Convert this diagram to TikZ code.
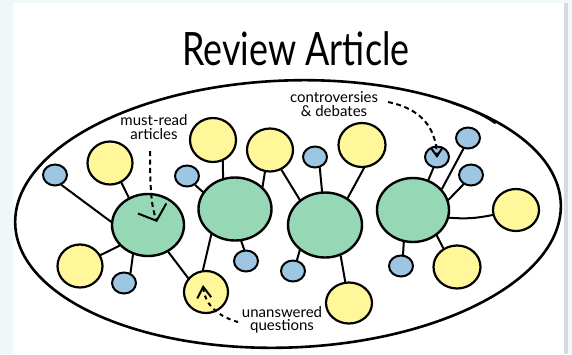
\documentclass[tikz,border=0pt]{standalone}
\usepackage{fontspec}
\newfontfamily\hand{Lato}
\usetikzlibrary{shapes.geometric,arrows.meta}
\definecolor{bgc}{HTML}{EFF7F9}
\definecolor{shadowc}{HTML}{D3DBDE}
\definecolor{greenc}{HTML}{96D8B6}
\definecolor{yelc}{HTML}{FFF799}
\definecolor{bluc}{HTML}{9DC6E2}
\begin{document}
\begin{tikzpicture}[x=1pt,y=-1pt,
  hub/.style={ellipse, draw=black, line width=2.4pt, fill=greenc, inner sep=0pt},
  yel/.style={ellipse, draw=black, line width=2.2pt, fill=yelc, inner sep=0pt, minimum width=45pt, minimum height=43pt},
  blu/.style={ellipse, draw=black, line width=2pt, fill=bluc, inner sep=0pt, minimum width=24pt, minimum height=21pt},
  link/.style={line width=2pt, line cap=round},
  note/.style={font=\hand\fontsize{15}{13.5}\selectfont, align=center, inner sep=0pt},
  dashlink/.style={line width=2pt, dash pattern=on 5pt off 3.5pt}
]
\useasboundingbox (0,0) rectangle (572,354);
\fill[bgc] (0,0) rectangle (572,354);
\fill[shadowc] (563,3) rectangle (568,354);
\fill[white] (13,3) rectangle (564,354);

% title
\node[font=\hand\fontsize{46}{46}\selectfont, anchor=base, inner sep=0pt] (title) at (296,65) {\scalebox{0.78}[1]{Review Article}};

% big ellipse
\draw[line width=2.6pt, rotate around={2.2:(288,214)}] (288,214) ellipse [x radius=273, y radius=133.5];
\draw[line width=2pt, line cap=round] (452,103) .. controls (468,108) and (482,114) .. (495,123);

% hubs
\node[hub, minimum width=72pt, minimum height=62pt] (g1) at (148,225) {};
\node[hub, minimum width=73pt, minimum height=63pt] (g2) at (235,209) {};
\node[hub, minimum width=74pt, minimum height=65pt] (g3) at (325,225) {};
\node[hub, minimum width=72pt, minimum height=64pt] (g4) at (413,210) {};

% yellow
\node[yel] (y1) at (110,163) {};
\node[yel, minimum width=46pt, minimum height=44pt] (y2) at (213,140) {};
\node[yel, minimum width=46pt, minimum height=43pt] (y3) at (270,150) {};
\node[yel, minimum width=47pt, minimum height=44pt] (y4) at (362,145) {};
\node[yel, minimum width=46pt, minimum height=42pt] (y5) at (516,210) {};
\node[yel, minimum width=47pt, minimum height=43pt] (y6) at (457,267) {};
\node[yel, minimum width=46pt, minimum height=41pt] (y7) at (349,303) {};
\node[yel, minimum width=44pt, minimum height=42pt] (y8) at (206,292) {};
\node[yel] (y9) at (80,266) {};

% blue
\node[blu] (b1) at (55,175) {};
\node[blu] (b2) at (187,176) {};
\node[blu] (b3) at (124,283) {};
\node[blu] (b4) at (246,261) {};
\node[blu] (b5) at (293,271) {};
\node[blu] (b6) at (315,157) {};
\node[blu] (b7) at (437,157) {};
\node[blu] (b8) at (468,138) {};
\node[blu] (b9) at (471,175) {};
\node[blu] (b10) at (401,266) {};

% links
\draw[link] (g1.175) -- (b1.303);
\draw[link] (g1.125) -- (y1.300);
\draw[link] (g1.216) -- (y9.28);
\draw[link] (g1.243) -- (b3.57);
\draw[link] (g1.307) -- (y8.142);

\draw[link] (g2.152) -- (b2.312);
\draw[link] (g2.111) -- (y2.295);
\draw[link] (g2.39) -- (y3.257);
\draw[link] (g2.227) -- (y8.98);
\draw[link] (g2.281) -- (b4.99);

\draw[link] (g3.135) -- (y3.300);
\draw[link] (g3.95) -- (b6.294);
\draw[link] (g3.50) -- (y4.275);
\draw[link] (g3.225) -- (b5.70);
\draw[link] (g3.297) -- (y7.100);

\draw[link] (g4.63) -- (b7.252);
\draw[link] (g4.36) -- (b8.247);
\draw[link] (g4.16) -- (b9.231);
\draw[link] (g4.348) to[bend right=8] (y5.192);
\draw[link] (g4.254) -- (b10.80);
\draw[link] (g4.313) -- (y6.126);

% notes
\node[note] (mustread) at (154,127) {must-read\\articles};
\node[note] (contro) at (334,104) {controversies\\\& debates};
\node[note] (unans) at (282,320) {unanswered\\questions};

\coordinate (mrs) at (150,151);
\coordinate (mrt) at (157,222);
\coordinate (cds) at (388,102);
\coordinate (cdt) at (437,158);
\coordinate (uqs) at (238,322);
\coordinate (uqt) at (203,285);

\draw[dashlink, -{Straight Barb[length=13pt,width=30pt]}] (mrs) .. controls (150,195) and (152,208) .. (mrt);
\draw[dashlink, -{Straight Barb[length=8pt,width=11pt]}] (cds) .. controls (418,108) and (436,125) .. (cdt);
\draw[dashlink, dash pattern=on 4pt off 4pt, -{Straight Barb[length=11pt,width=14pt]}] (uqs) .. controls (220,317) and (205,306) .. (uqt);
\end{tikzpicture}
\end{document}
